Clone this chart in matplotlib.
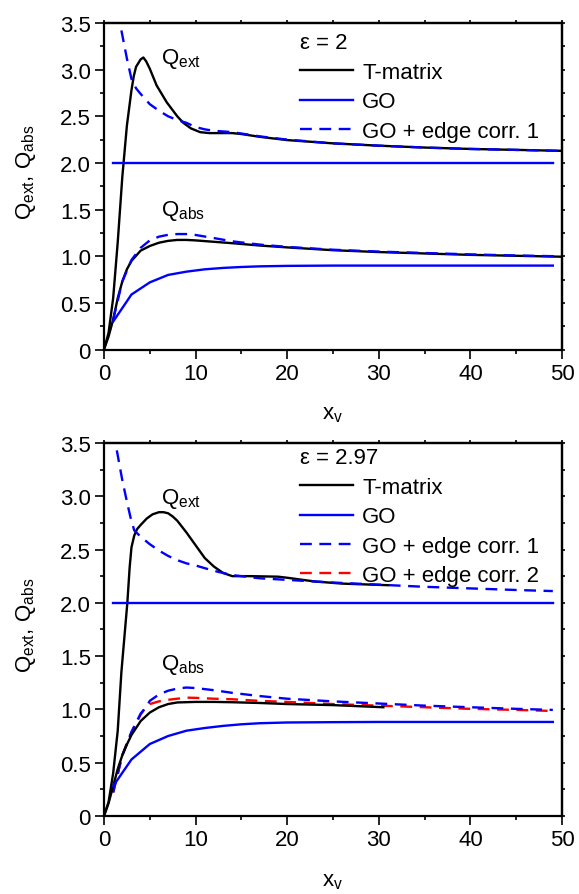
#Extinction and absorption efficiencies: T-matrix vs GO with edge corrections

import matplotlib
matplotlib.use('Agg')
import matplotlib.pyplot as plt
import numpy as np
from matplotlib.ticker import MultipleLocator, FuncFormatter, NullFormatter

plt.rcParams['font.family'] = ['Liberation Sans', 'DejaVu Sans']
plt.rcParams['mathtext.fontset'] = 'custom'
plt.rcParams['mathtext.rm'] = 'Liberation Sans'
plt.rcParams['mathtext.it'] = 'Liberation Sans:italic'

# ---- panel 1: eps = 2 ----
x_tm_ext_a = [0, 0.5, 1, 1.5, 2, 2.5, 3, 3.25, 3.5, 4, 4.3, 4.6, 5, 5.75, 6.85, 8, 8.66, 9.5, 10.5, 11.5, 12.5, 14, 15, 17, 20, 25, 30, 35, 40, 45, 50]
q_tm_ext_a = [0, 0.18, 0.55, 1.15, 1.85, 2.4, 2.78, 2.93, 3.03, 3.11, 3.13, 3.09, 3.01, 2.83, 2.65, 2.5, 2.43, 2.37, 2.33, 2.32, 2.32, 2.32, 2.31, 2.28, 2.245, 2.21, 2.185, 2.165, 2.15, 2.14, 2.13]
x_e1_ext_a = [1.9, 2.5, 3.0, 3.5, 4, 5, 6, 7, 8, 9, 10, 11, 12, 14, 17, 20, 25, 30, 35, 40, 45, 49.5]
q_e1_ext_a = [3.42, 3.12, 2.9, 2.8, 2.74, 2.63, 2.56, 2.5, 2.46, 2.43, 2.385, 2.36, 2.345, 2.33, 2.285, 2.25, 2.21, 2.185, 2.165, 2.15, 2.14, 2.13]
x_go_ext_a = [1, 49]
q_go_ext_a = [2.0, 2.0]

x_tm_abs_a = [0, 0.5, 1, 1.5, 2, 2.5, 3, 4, 5, 6, 7, 8, 9, 10, 12, 14, 17, 20, 25, 30, 35, 40, 45, 50]
q_tm_abs_a = [0, 0.14, 0.32, 0.55, 0.73, 0.86, 0.95, 1.06, 1.11, 1.145, 1.165, 1.175, 1.175, 1.17, 1.155, 1.14, 1.115, 1.095, 1.065, 1.045, 1.03, 1.015, 1.005, 0.995]
x_e1_abs_a = [1, 2, 3, 4, 5, 6, 7, 8, 9, 10, 12, 14, 17, 20, 25, 30, 35, 40, 45, 49.5]
q_e1_abs_a = [0.32, 0.73, 0.96, 1.09, 1.17, 1.21, 1.23, 1.238, 1.238, 1.228, 1.195, 1.16, 1.125, 1.1, 1.07, 1.05, 1.035, 1.02, 1.008, 1.0]
x_go_abs_a = [1, 3, 5, 7, 9, 11, 13, 15, 17, 20, 25, 30, 35, 40, 45, 49]
q_go_abs_a = [0.3, 0.59, 0.72, 0.8, 0.835, 0.86, 0.875, 0.885, 0.892, 0.897, 0.9, 0.9, 0.9, 0.9, 0.9, 0.9]

# ---- panel 2: eps = 2.97 ----
x_tm_ext_b = [0, 0.5, 1, 1.5, 1.9, 2.55, 2.8, 3.0, 3.3, 3.6, 4, 4.66, 5.3, 6, 6.5, 7, 7.5, 8, 9, 10, 11, 12, 13, 14, 16, 19, 20, 23, 26, 31]
q_tm_ext_b = [0, 0.13, 0.4, 0.8, 1.35, 2.0, 2.33, 2.52, 2.63, 2.69, 2.73, 2.79, 2.83, 2.85, 2.85, 2.84, 2.81, 2.77, 2.66, 2.54, 2.42, 2.34, 2.28, 2.25, 2.25, 2.245, 2.235, 2.2, 2.18, 2.165]
x_e1_ext_b = [1.4, 2, 2.5, 2.9, 3.3, 4, 5, 6, 7, 8, 9, 10, 12, 14, 17, 20, 25, 30, 35, 40, 45, 49]
q_e1_ext_b = [3.43, 3.15, 2.95, 2.8, 2.68, 2.62, 2.55, 2.49, 2.44, 2.40, 2.37, 2.35, 2.30, 2.26, 2.23, 2.215, 2.19, 2.17, 2.15, 2.135, 2.12, 2.11]
x_go_ext_b = [1, 49]
q_go_ext_b = [2.0, 2.0]

x_tm_abs_b = [0, 0.5, 1, 1.5, 2, 2.5, 3, 4, 5, 6, 7, 8, 10, 12, 14, 17, 20, 25, 30.5]
q_tm_abs_b = [0, 0.12, 0.28, 0.44, 0.57, 0.67, 0.76, 0.89, 0.97, 1.02, 1.05, 1.065, 1.07, 1.07, 1.067, 1.06, 1.05, 1.04, 1.02]
x_e1_abs_b = [1, 2, 3, 4, 4.66, 5, 6, 7, 8, 9, 10, 12, 14, 17, 20, 25, 30, 35, 40, 45, 49]
q_e1_abs_b = [0.22, 0.57, 0.79, 0.96, 1.03, 1.08, 1.14, 1.175, 1.195, 1.205, 1.2, 1.18, 1.155, 1.125, 1.10, 1.075, 1.055, 1.035, 1.02, 1.005, 0.995]
x_e2_abs_b = [1, 2, 3, 4, 4.66, 5, 6, 7, 8, 9, 10, 12, 14, 17, 20, 25, 30, 35, 40, 45, 49]
q_e2_abs_b = [0.22, 0.57, 0.78, 0.95, 1.03, 1.05, 1.075, 1.09, 1.10, 1.11, 1.108, 1.10, 1.095, 1.08, 1.07, 1.05, 1.035, 1.02, 1.005, 0.995, 0.985]
x_go_abs_b = [1, 3, 5, 7, 9, 11, 13, 15, 17, 20, 25, 30, 35, 40, 45, 49]
q_go_abs_b = [0.28, 0.53, 0.675, 0.75, 0.80, 0.825, 0.845, 0.86, 0.87, 0.877, 0.88, 0.882, 0.882, 0.882, 0.882, 0.882]

fs = 16
lw = 1.7
dash = (5.0, 3.2)

fig = plt.figure(figsize=(5.79, 8.95), dpi=100)
ax1 = fig.add_axes([0.1796, 0.6083, 0.791, 0.3649])
ax2 = fig.add_axes([0.1796, 0.0872, 0.791, 0.4168])


def setup_axes(ax):
    ax.set_xlim(0, 50)
    ax.set_ylim(0, 3.5)
    ax.xaxis.set_major_locator(MultipleLocator(10))
    ax.xaxis.set_minor_locator(MultipleLocator(5))
    ax.yaxis.set_major_locator(MultipleLocator(0.5))
    ax.yaxis.set_minor_locator(MultipleLocator(0.25))
    ax.yaxis.set_major_formatter(FuncFormatter(lambda v, p: '0' if v == 0 else f'{v:.1f}'))
    ax.tick_params(which='major', direction='out', length=6.5, width=1.2, labelsize=fs, pad=3)
    ax.tick_params(which='minor', direction='out', length=3.2, width=1.2)
    for s in ax.spines.values():
        s.set_linewidth(1.6)
    # small ticks on top and right
    top = ax.secondary_xaxis('top')
    top.set_xticks(np.arange(0, 51, 5))
    top.xaxis.set_major_formatter(NullFormatter())
    top.tick_params(direction='out', length=2.5, width=1.2)
    top.spines['top'].set_linewidth(1.6)
    right = ax.secondary_yaxis('right')
    right.set_yticks(np.arange(0, 3.51, 0.25))
    right.yaxis.set_major_formatter(NullFormatter())
    right.tick_params(direction='out', length=2.5, width=1.2)
    right.spines['right'].set_linewidth(1.6)
    ax.set_xlabel(r'x$_\mathrm{v}$', fontsize=fs, labelpad=14)
    ax.set_ylabel(r'Q$_\mathrm{ext}$, Q$_\mathrm{abs}$', fontsize=fs)


# panel 1
ax1.plot(x_tm_ext_a, q_tm_ext_a, color='black', lw=lw, label='T-matrix')
ax1.plot(x_go_ext_a, q_go_ext_a, color='#0000ff', lw=lw, label='GO')
ax1.plot(x_e1_ext_a, q_e1_ext_a, color='#0000ff', lw=lw, dashes=dash, label='GO + edge corr. 1')
ax1.plot(x_tm_abs_a, q_tm_abs_a, color='black', lw=lw)
ax1.plot(x_go_abs_a, q_go_abs_a, color='#0000ff', lw=lw)
ax1.plot(x_e1_abs_a, q_e1_abs_a, color='#0000ff', lw=lw, dashes=dash)
setup_axes(ax1)
ax1.yaxis.set_label_coords(-0.145, 0.547)
ax1.text(6.2, 3.07, r'Q$_\mathrm{ext}$', fontsize=fs, ha='left', va='baseline')
ax1.text(6.2, 1.44, r'Q$_\mathrm{abs}$', fontsize=fs, ha='left', va='baseline')
ax1.legend(title='ε = 2', title_fontsize=fs, fontsize=fs, alignment='left',
           loc='upper left', bbox_to_anchor=(0.428, 0.971), frameon=False,
           borderpad=0, borderaxespad=0, handlelength=2.4, handletextpad=0.4,
           labelspacing=0.38)

# panel 2
ax2.plot(x_tm_ext_b, q_tm_ext_b, color='black', lw=lw, label='T-matrix')
ax2.plot(x_go_ext_b, q_go_ext_b, color='#0000ff', lw=lw, label='GO')
ax2.plot(x_e1_ext_b, q_e1_ext_b, color='#0000ff', lw=lw, dashes=dash, label='GO + edge corr. 1')
ax2.plot(x_e2_abs_b, q_e2_abs_b, color='#ff0000', lw=lw, dashes=dash, label='GO + edge corr. 2')
ax2.plot(x_e1_abs_b, q_e1_abs_b, color='#0000ff', lw=lw, dashes=dash)
ax2.plot(x_tm_abs_b, q_tm_abs_b, color='black', lw=lw)
ax2.plot(x_go_abs_b, q_go_abs_b, color='#0000ff', lw=lw)
setup_axes(ax2)
ax2.yaxis.set_label_coords(-0.145, 0.515)
ax2.text(6.2, 2.94, r'Q$_\mathrm{ext}$', fontsize=fs, ha='left', va='baseline')
ax2.text(6.2, 1.38, r'Q$_\mathrm{abs}$', fontsize=fs, ha='left', va='baseline')
ax2.legend(title='ε = 2.97', title_fontsize=fs, fontsize=fs, alignment='left',
           loc='upper left', bbox_to_anchor=(0.428, 0.988), frameon=False,
           borderpad=0, borderaxespad=0, handlelength=2.4, handletextpad=0.4,
           labelspacing=0.38)

fig.savefig('out.png', dpi=100)
